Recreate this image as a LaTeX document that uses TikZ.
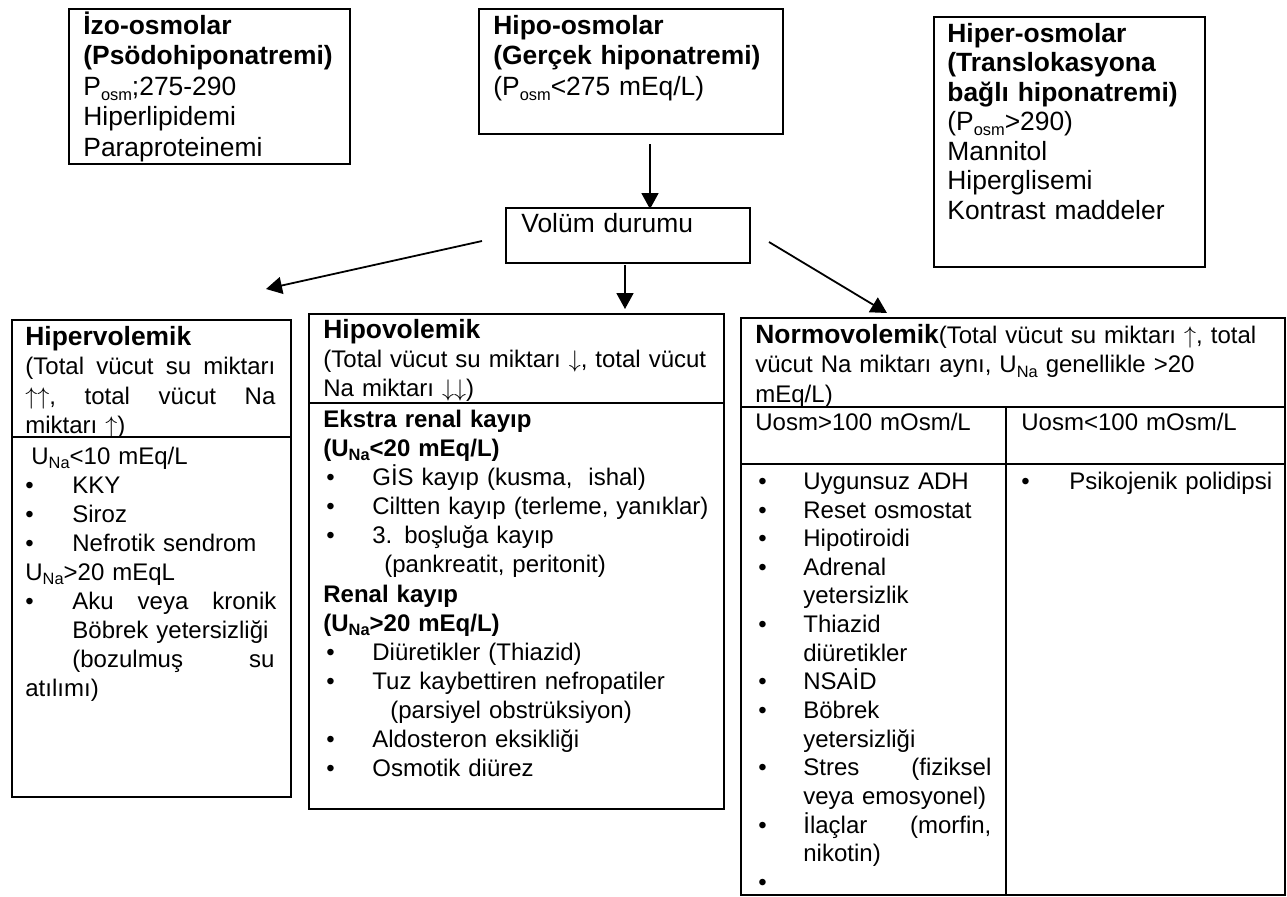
\documentclass[tikz,border=0pt]{standalone}
\usepackage{fontspec}
\setmainfont{Liberation Sans}
\usetikzlibrary{arrows.meta}
\newcommand\fl{\rule{0pt}{14pt}}
\newcommand\Sb[1]{\raisebox{-0.35ex}{\fontsize{8.2}{8.2}\selectfont #1}}
\newcommand\tsz{\fontsize{13.2}{15.25}\selectfont\lineskiplimit=-20pt}
\newcommand\bsz[1]{\fontsize{12}{#1}\selectfont\lineskiplimit=-20pt}
\newcommand\bgs{\fontsize{13.2}{14.3}\selectfont\bfseries}
\newcommand\bi[3]{\makebox[#1][l]{\hspace*{#2}\textbullet}#3}
\newcommand\up{$\uparrow$}
\newcommand\dn{$\downarrow$}
\tikzset{
  bx/.style n args={2}{draw, line width=1pt, anchor=north west, inner sep=0pt,
     minimum width=#1*0.5pt, minimum height=#2*0.5pt},
  txt/.style={anchor=north west, inner sep=0pt, align=left, text width=#1},
  arr/.style={line width=0.9pt, -{Triangle[width=8.5pt,length=8pt]}},
  sep/.style={line width=1pt},
}
\begin{document}
\begin{tikzpicture}[x=0.5pt,y=-0.5pt]
\useasboundingbox (0,0) rectangle (1287,896);
% ---------- top boxes
\node[bx={281}{155}] (izo) at (68,8) {};
\node[txt=300pt, font=\tsz] (izot) at (83,6)
  {\fl\textbf{İzo-osmolar}\\ \textbf{(Psödohiponatremi)}\\ P\Sb{osm};275-290\\ Hiperlipidemi\\ Paraproteinemi};
\node[bx={304}{125}] (hipo) at (478,8) {};
\node[txt=300pt, font=\tsz] (hipot) at (493,6)
  {\fl\textbf{Hipo-osmolar}\\ \textbf{(Gerçek hiponatremi)}\\ (P\Sb{osm}<275 mEq/L)};
\node[bx={271}{250}] (hiper) at (933,16) {};
\node[txt=300pt, font={\fontsize{13.2}{14.75}\selectfont\lineskiplimit=-20pt}] (hipert) at (947,14)
  {\fl\textbf{Hiper-osmolar}\\ \textbf{(Translokasyona}\\ \textbf{bağlı hiponatremi)}\\ (P\Sb{osm}>290)\\ Mannitol\\ Hiperglisemi\\ Kontrast maddeler};
\node[bx={244}{55}] (vol) at (505,207) {};
\node[txt=300pt, font=\tsz] (volt) at (521,204) {\fl Volüm durumu};
% ---------- arrows
\coordinate (a1s) at (650,144); \coordinate (a1e) at (650,209);
\coordinate (a2s) at (482,241); \coordinate (a2e) at (266,289);
\coordinate (a3s) at (625,265); \coordinate (a3e) at (625,309);
\coordinate (a4s) at (769,242); \coordinate (a4e) at (887,313);
\draw[arr] (a1s) -- (a1e);
\draw[arr] (a2s) -- (a2e);
\draw[arr] (a3s) -- (a3e);
\draw[arr] (a4s) -- (a4e);
% ---------- Hipervolemik
\node[bx={279}{477}] (hiperv) at (11,319) {};
\draw[sep] (hiperv.west |- 0,437) -- (hiperv.east |- 0,437);
\node[txt=300pt, font=\bsz{14.65pt}] (hipervh) at (25,317)
  {\fl{\bgs Hipervolemik}\\
   \makebox[125pt][s]{(Total\hfill vücut\hfill su\hfill miktarı}\\
   \makebox[125pt][s]{\up\up,\hfill total\hfill vücut\hfill Na}\\
   miktarı \up)};
\node[txt=300pt, font=\bsz{14.5pt}] (hipervl) at (25,436)
  {\fl\hspace*{3pt}U\Sb{Na}<10 mEq/L\\
   \bi{23.5pt}{0pt}{KKY}\\
   \bi{23.5pt}{0pt}{Siroz}\\
   \bi{23.5pt}{0pt}{Nefrotik sendrom}\\
   U\Sb{Na}>20 mEqL\\
   \bi{23.5pt}{0pt}{\makebox[102pt][s]{Aku\hfill veya\hfill kronik}}\\
   \hspace*{23.5pt}Böbrek yetersizliği\\
   \hspace*{23.5pt}\makebox[101pt][s]{(bozulmuş\hfill su}\\
   atılımı)};
% ---------- Hipovolemik
\node[bx={415}{495}] (hipov) at (308,313) {};
\draw[sep] (hipov.west |- 0,403) -- (hipov.east |- 0,403);
\node[txt=300pt, font=\bsz{14.5pt}] (hipovh) at (323,310)
  {\fl{\bgs Hipovolemik}\\
   (Total vücut su miktarı \dn, total vücut\\
   Na miktarı \dn\dn)};
\node[txt=300pt, font=\bsz{14.55pt}] (hipovl) at (323,399)
  {\fl\textbf{Ekstra renal kayıp}\\
   \textbf{(U\Sb{Na}<20 mEq/L)}\\
   \bi{24.5pt}{1.5pt}{GİS kayıp (kusma,\ \ ishal)}\\
   \bi{24.5pt}{1.5pt}{Ciltten kayıp (terleme, yanıklar)}\\
   \bi{24.5pt}{1.5pt}{3. boşluğa kayıp}\\
   \hspace*{30.5pt}(pankreatit, peritonit)\\
   \textbf{Renal kayıp}\\
   \textbf{(U\Sb{Na}>20 mEq/L)}\\
   \bi{24.5pt}{1.5pt}{Diüretikler (Thiazid)}\\
   \bi{24.5pt}{1.5pt}{Tuz kaybettiren nefropatiler}\\
   \hspace*{33.5pt}(parsiyel obstrüksiyon)\\
   \bi{24.5pt}{1.5pt}{Aldosteron eksikliği}\\
   \bi{24.5pt}{1.5pt}{Osmotik diürez}};
% ---------- Normovolemik
\node[bx={544}{577}] (normo) at (740,317) {};
\draw[sep] (normo.west |- 0,407) -- (normo.east |- 0,407);
\draw[sep] (normo.west |- 0,464) -- (normo.east |- 0,464);
\draw[sep] (1006,407) -- (normo.south -| 1006,0);
\node[txt=300pt, font=\bsz{14.65pt}] (normoh) at (755,315)
  {\fl{\bgs Normovolemik}(Total vücut su miktarı \up, total\\
   vücut Na miktarı aynı, U\Sb{Na} genellikle >20\\
   mEq/L)};
\node[txt=300pt, font=\bsz{14.3pt}] (uosm1) at (755,402) {\fl Uosm>100 mOsm/L};
\node[txt=300pt, font=\bsz{14.3pt}] (uosm2) at (1021,402) {\fl Uosm<100 mOsm/L};
\node[txt=300pt, font=\bsz{14.32pt}] (normol) at (755,461)
  {\fl\bi{24pt}{1.5pt}{Uygunsuz ADH}\\
   \bi{24pt}{1.5pt}{Reset osmostat}\\
   \bi{24pt}{1.5pt}{Hipotiroidi}\\
   \bi{24pt}{1.5pt}{Adrenal}\\
   \hspace*{24pt}yetersizlik\\
   \bi{24pt}{1.5pt}{Thiazid}\\
   \hspace*{24pt}diüretikler\\
   \bi{24pt}{1.5pt}{NSAİD}\\
   \bi{24pt}{1.5pt}{Böbrek}\\
   \hspace*{24pt}yetersizliği\\
   \bi{24pt}{1.5pt}{\makebox[94pt][s]{Stres\hfill(fiziksel}}\\
   \hspace*{24pt}veya emosyonel)\\
   \bi{24pt}{1.5pt}{\makebox[94pt][s]{İlaçlar\hfill(morfin,}}\\
   \hspace*{24pt}nikotin)\\
   \bi{24pt}{1.5pt}{}};
\node[txt=300pt, font=\bsz{14.3pt}] (normor) at (1021,461)
  {\fl\bi{24pt}{0pt}{Psikojenik polidipsi}};
\end{tikzpicture}
\end{document}
